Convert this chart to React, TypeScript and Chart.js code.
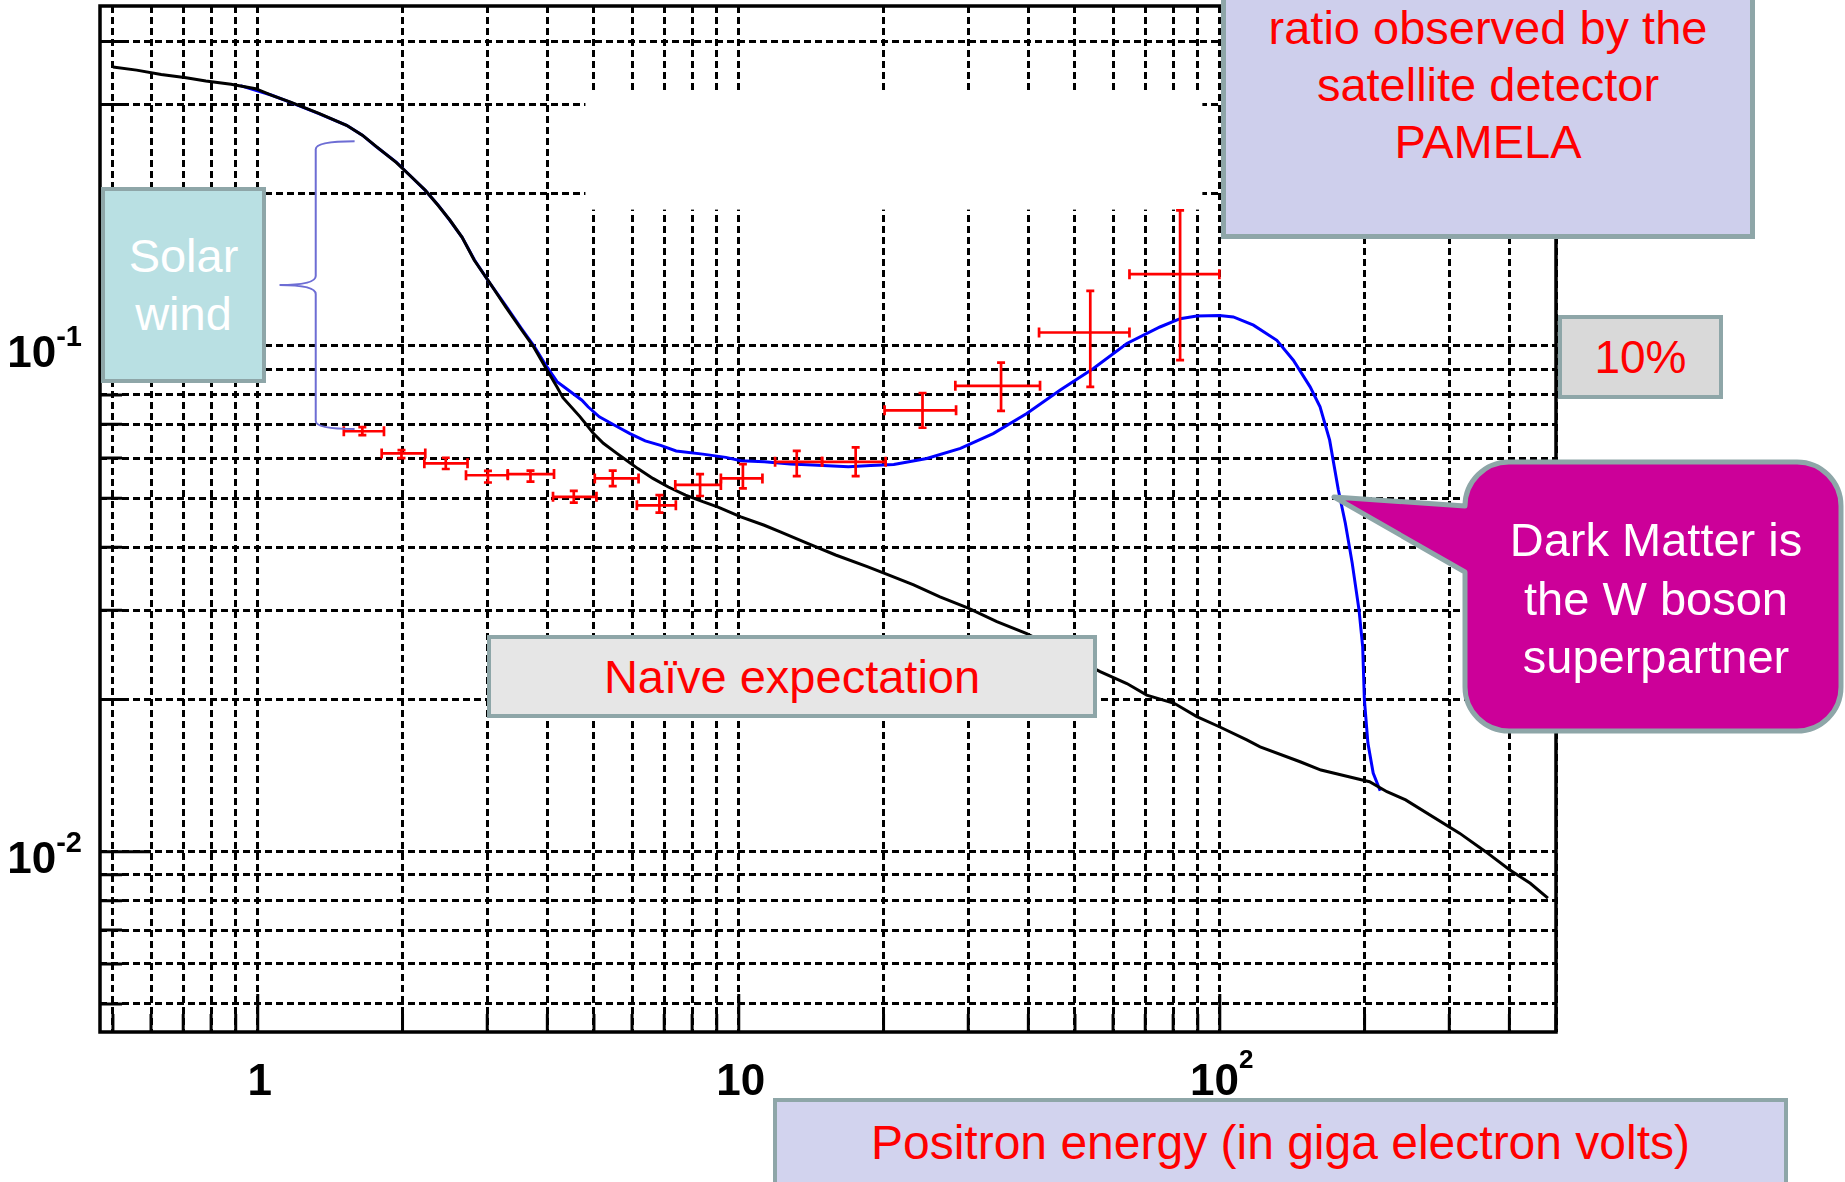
import { useEffect, useRef } from 'react';
import { Chart, registerables } from 'chart.js';

Chart.register(...registerables);

// axis ranges: positron energy (GeV) and positron fraction
const E_MIN = 0.47;
const E_MAX = 500;
const F_MIN = 0.0044;
const F_MAX = 0.47;

// grid lines (ROOT style, every minor decade step)
const E_GRID = [0.5, 0.6, 0.7, 0.8, 0.9, 1, 2, 3, 4, 5, 6, 7, 8, 9, 10, 20, 30, 40, 50, 60, 70, 80, 90, 100, 200, 300, 400, 500];
const F_GRID = [0.005, 0.006, 0.007, 0.008, 0.009, 0.01, 0.02, 0.03, 0.04, 0.05, 0.06, 0.07, 0.08, 0.09, 0.1, 0.2, 0.3, 0.4];

// tick labels
const E_LABEL_AT = [1, 10, 100];
const E_LABEL_BASE = ['1', '10', '10'];
const E_LABEL_EXP = ['', '', '2'];
const F_LABEL_AT = [0.1, 0.01];
const F_LABEL_BASE = ['10', '10'];
const F_LABEL_EXP = ['-1', '-2'];

// naive expectation (black)
const NAIVE_E = [0.5, 0.56, 0.63, 0.71, 0.78, 0.88, 0.99, 1.07, 1.17, 1.34, 1.53, 1.65, 1.77, 1.94, 2.07, 2.23, 2.37, 2.51, 2.66, 2.82, 3.04, 3.28, 3.54, 3.75, 3.96, 4.19, 4.31, 4.68, 4.99, 5.23, 5.58, 5.84, 6.17, 6.63, 7.14, 7.75, 8.42, 9.06, 10.1, 11.3, 12.2, 13.9, 15.9, 18.5, 20.1, 23.1, 26.2, 30.0, 34.4, 39.7, 56.4, 64.1, 70.5, 80.4, 89.6, 99.8, 113.8, 121.3, 146.9, 162.3, 185.5, 204.8, 222.6, 243.4, 315, 357, 401, 442, 481];
const NAIVE_F = [0.356, 0.351, 0.344, 0.339, 0.334, 0.329, 0.3226, 0.313, 0.3034, 0.2884, 0.273, 0.261, 0.2473, 0.2307, 0.2175, 0.2031, 0.1897, 0.1772, 0.164, 0.1477, 0.133, 0.1193, 0.1074, 0.0994, 0.0908, 0.0829, 0.079, 0.0724, 0.0671, 0.0642, 0.0613, 0.0594, 0.0572, 0.0547, 0.0526, 0.0507, 0.0492, 0.048, 0.0459, 0.0442, 0.0429, 0.0407, 0.0386, 0.0366, 0.0355, 0.0337, 0.0319, 0.0303, 0.0285, 0.027, 0.0227, 0.0215, 0.0204, 0.01965, 0.0185, 0.01766, 0.01663, 0.01612, 0.01506, 0.0145, 0.01407, 0.01375, 0.01314, 0.01266, 0.01088, 0.01, 0.0092, 0.00866, 0.00809];

// dark matter prediction (blue)
const DM_E = [0.92, 1.07, 1.17, 1.34, 1.53, 1.65, 1.77, 1.94, 2.07, 2.23, 2.37, 2.51, 2.66, 2.82, 3.04, 3.28, 3.54, 3.75, 3.96, 4.19, 4.72, 4.86, 5.13, 5.52, 5.94, 6.39, 6.88, 7.41, 8.42, 9.4, 10.1, 11.3, 12.8, 14.6, 16.9, 18.8, 21.0, 24.6, 28.9, 33.8, 39.7, 46.6, 54.6, 64.1, 75.1, 82.7, 89.6, 99.8, 106.7, 117.5, 131.4, 142.2, 154.1, 161.6, 169.2, 176.4, 182.4, 188.5, 194.8, 198.2, 199.8, 203.2, 208.4, 215.5];
const DM_F = [0.327, 0.313, 0.303, 0.288, 0.273, 0.261, 0.247, 0.231, 0.2175, 0.203, 0.19, 0.177, 0.164, 0.148, 0.133, 0.12, 0.108, 0.1, 0.092, 0.085, 0.0781, 0.0758, 0.0724, 0.0697, 0.0671, 0.0649, 0.0636, 0.062, 0.0611, 0.0602, 0.0593, 0.059, 0.0584, 0.0581, 0.0577, 0.058, 0.0583, 0.0599, 0.0627, 0.0671, 0.0735, 0.0818, 0.0902, 0.1011, 0.109, 0.1132, 0.1146, 0.1148, 0.1141, 0.1099, 0.1026, 0.0937, 0.083, 0.0758, 0.0651, 0.0519, 0.0446, 0.0372, 0.03, 0.0254, 0.02, 0.0164, 0.0143, 0.0132];

// PAMELA positron fraction with errors (red)
const PAM_E = [1.65, 1.99, 2.46, 3.01, 3.69, 4.54, 5.47, 6.84, 8.31, 10.2, 13.2, 17.5, 24.1, 35.1, 53.8, 82.7];
const PAM_E_LO = [1.51, 1.81, 2.22, 2.71, 3.31, 4.11, 5.02, 6.14, 7.38, 9.18, 11.9, 14.9, 20.1, 28.2, 42.1, 64.9];
const PAM_E_HI = [1.83, 2.23, 2.73, 3.31, 4.13, 5.06, 6.19, 7.4, 9.18, 11.2, 14.9, 20.2, 28.3, 42.3, 64.9, 99.8];
const PAM_F = [0.0678, 0.0613, 0.0586, 0.0555, 0.0558, 0.0503, 0.0547, 0.0484, 0.0531, 0.0547, 0.059, 0.059, 0.0746, 0.0834, 0.1063, 0.1386];
const PAM_F_LO = [0.0666, 0.06, 0.0571, 0.0537, 0.0539, 0.049, 0.0528, 0.0468, 0.0505, 0.0523, 0.0553, 0.0553, 0.0689, 0.0744, 0.083, 0.0937];
const PAM_F_HI = [0.0691, 0.0622, 0.0601, 0.0566, 0.0567, 0.0517, 0.0567, 0.0507, 0.0558, 0.0584, 0.062, 0.063, 0.0807, 0.0927, 0.1285, 0.1854];

// curly brace next to "Solar wind": [tip, spine, ends] and [top, tip, bottom]
const BRACE_E = [1.11, 1.32, 1.59];
const BRACE_F = [0.254, 0.132, 0.0685];

// blanked-out patch of the grid in the source picture
const PATCH_E = [4.8, 92];
const PATCH_F = [0.186, 0.318];

const LABEL_FONT = 'bold 44px "Liberation Sans", Arial, sans-serif';
const EXP_FONT_X = 'bold 26px "Liberation Sans", Arial, sans-serif';
const EXP_FONT_Y = 'bold 29px "Liberation Sans", Arial, sans-serif';
const BOX_FONT = '"Liberation Sans", Arial, Helvetica, sans-serif';
const BOX_BORDER = '#8ea6a8';

const rootPlot = {
  id: 'rootPlot',
  beforeDatasetsDraw(chart: Chart) {
    const { ctx, chartArea: a } = chart;
    const x = chart.scales.x;
    const y = chart.scales.y;
    ctx.save();
    ctx.fillStyle = '#ffffff';
    const px0 = x.getPixelForValue(PATCH_E[0]);
    const px1 = x.getPixelForValue(PATCH_E[1]);
    const py0 = y.getPixelForValue(PATCH_F[1]);
    const py1 = y.getPixelForValue(PATCH_F[0]);
    ctx.fillRect(px0, py0, px1 - px0, py1 - py0);

    ctx.strokeStyle = '#000';
    ctx.setLineDash([]);
    ctx.lineWidth = 3;
    ctx.beginPath();
    E_GRID.forEach((v) => {
      const px = x.getPixelForValue(v);
      const len = E_LABEL_AT.includes(v) ? 38 : 18;
      ctx.moveTo(px, a.bottom);
      ctx.lineTo(px, a.bottom - len);
    });
    F_GRID.forEach((v) => {
      const py = y.getPixelForValue(v);
      const len = F_LABEL_AT.includes(v) ? 50 : 22;
      ctx.moveTo(a.left, py);
      ctx.lineTo(a.left + len, py);
    });
    ctx.stroke();

    ctx.lineWidth = 3.5;
    ctx.strokeRect(a.left, a.top, a.right - a.left, a.bottom - a.top);
    ctx.restore();
  },
  afterDatasetsDraw(chart: Chart) {
    const { ctx } = chart;
    const x = chart.scales.x;
    const y = chart.scales.y;
    ctx.save();
    // error bars
    ctx.strokeStyle = '#ff0000';
    ctx.lineWidth = 2.7;
    PAM_E.forEach((e, i) => {
      const cx = x.getPixelForValue(e);
      const cy = y.getPixelForValue(PAM_F[i]);
      const xl = x.getPixelForValue(PAM_E_LO[i]);
      const xh = x.getPixelForValue(PAM_E_HI[i]);
      const yl = y.getPixelForValue(PAM_F_LO[i]);
      const yh = y.getPixelForValue(PAM_F_HI[i]);
      ctx.beginPath();
      ctx.moveTo(xl, cy);
      ctx.lineTo(xh, cy);
      ctx.moveTo(xl, cy - 5);
      ctx.lineTo(xl, cy + 5);
      ctx.moveTo(xh, cy - 5);
      ctx.lineTo(xh, cy + 5);
      ctx.moveTo(cx, yl);
      ctx.lineTo(cx, yh);
      ctx.moveTo(cx - 4, yl);
      ctx.lineTo(cx + 4, yl);
      ctx.moveTo(cx - 4, yh);
      ctx.lineTo(cx + 4, yh);
      ctx.stroke();
    });

    // brace
    const xt = x.getPixelForValue(BRACE_E[0]);
    const xs = x.getPixelForValue(BRACE_E[1]);
    const xe = x.getPixelForValue(BRACE_E[2]);
    const yt = y.getPixelForValue(BRACE_F[0]);
    const ym = y.getPixelForValue(BRACE_F[1]);
    const yb = y.getPixelForValue(BRACE_F[2]);
    ctx.strokeStyle = '#6d6dd4';
    ctx.lineWidth = 2;
    ctx.beginPath();
    ctx.moveTo(xe, yt);
    ctx.quadraticCurveTo(xs, yt, xs, yt + 8);
    ctx.lineTo(xs, ym - 9);
    ctx.quadraticCurveTo(xs, ym, xt, ym);
    ctx.quadraticCurveTo(xs, ym, xs, ym + 9);
    ctx.lineTo(xs, yb - 8);
    ctx.quadraticCurveTo(xs, yb, xe, yb);
    ctx.stroke();
    ctx.restore();
  },
  afterDraw(chart: Chart) {
    const { ctx, chartArea: a } = chart;
    const x = chart.scales.x;
    const y = chart.scales.y;
    ctx.save();
    ctx.fillStyle = '#000';
    ctx.textAlign = 'left';
    ctx.textBaseline = 'alphabetic';
    E_LABEL_AT.forEach((v, i) => {
      const px = x.getPixelForValue(v);
      ctx.font = LABEL_FONT;
      const wb = ctx.measureText(E_LABEL_BASE[i]).width;
      ctx.font = EXP_FONT_X;
      const we = E_LABEL_EXP[i] ? ctx.measureText(E_LABEL_EXP[i]).width : 0;
      const left = px - (wb + we) / 2 + 2;
      const base = a.bottom + 63;
      ctx.font = LABEL_FONT;
      ctx.fillText(E_LABEL_BASE[i], left, base);
      if (we) {
        ctx.font = EXP_FONT_X;
        ctx.fillText(E_LABEL_EXP[i], left + wb, base - 27);
      }
    });
    F_LABEL_AT.forEach((v, i) => {
      const py = y.getPixelForValue(v);
      const right = a.left - 18;
      ctx.font = EXP_FONT_Y;
      const we = ctx.measureText(F_LABEL_EXP[i]).width;
      ctx.font = LABEL_FONT;
      const wb = ctx.measureText(F_LABEL_BASE[i]).width;
      ctx.fillText(F_LABEL_BASE[i], right - we - wb, py + 21);
      ctx.font = EXP_FONT_Y;
      ctx.fillText(F_LABEL_EXP[i], right - we, py);
    });
    ctx.restore();
  },
};

interface BoxProps {
  left: number;
  top: number;
  width: number;
  height: number;
  fill: string;
  color: string;
  fontSize?: number;
  lines: string[];
}

function Box({ left, top, width, height, fill, color, fontSize = 47, lines }: BoxProps) {
  return (
    <div
      style={{
        position: 'absolute',
        left,
        top,
        width,
        height,
        boxSizing: 'border-box',
        background: fill,
        border: `4px solid ${BOX_BORDER}`,
        color,
        fontFamily: BOX_FONT,
        fontSize,
        lineHeight: '58px',
        display: 'flex',
        flexDirection: 'column',
        alignItems: 'center',
        justifyContent: 'center',
        textAlign: 'center',
        whiteSpace: 'nowrap',
      }}
    >
      {lines.map((l) => (
        <div key={l}>{l}</div>
      ))}
    </div>
  );
}

export default function App() {
  const canvasRef = useRef<HTMLCanvasElement>(null);

  useEffect(() => {
    if (!canvasRef.current) return;
    const chart = new Chart(canvasRef.current, {
      type: 'line',
      data: {
        datasets: [
          {
            label: 'Naive expectation',
            data: NAIVE_E.map((e, i) => ({ x: e, y: NAIVE_F[i] })),
            borderColor: '#000000',
            borderWidth: 3,
            pointRadius: 0,
            tension: 0,
            fill: false,
            order: 1,
          },
          {
            label: 'Dark matter',
            data: DM_E.map((e, i) => ({ x: e, y: DM_F[i] })),
            borderColor: '#0000ff',
            borderWidth: 3,
            pointRadius: 0,
            tension: 0,
            fill: false,
            order: 2,
          },
          {
            type: 'scatter',
            label: 'PAMELA',
            data: PAM_E.map((e, i) => ({ x: e, y: PAM_F[i] })),
            pointRadius: 0,
            showLine: false,
            order: 0,
          },
        ],
      },
      options: {
        animation: false,
        responsive: true,
        maintainAspectRatio: false,
        layout: { padding: { left: 100, top: 6, right: 289, bottom: 150 } },
        plugins: { legend: { display: false }, tooltip: { enabled: false } },
        scales: {
          x: {
            type: 'logarithmic',
            min: E_MIN,
            max: E_MAX,
            afterBuildTicks: (s) => {
              s.ticks = E_GRID.map((v) => ({ value: v }));
            },
            ticks: { display: false, autoSkip: false },
            grid: { color: '#000', lineWidth: 3, drawTicks: false },
            border: { display: false, dash: [7, 4] },
          },
          y: {
            type: 'logarithmic',
            min: F_MIN,
            max: F_MAX,
            afterBuildTicks: (s) => {
              s.ticks = F_GRID.map((v) => ({ value: v }));
            },
            ticks: { display: false, autoSkip: false },
            grid: { color: '#000', lineWidth: 3, drawTicks: false },
            border: { display: false, dash: [7, 4] },
          },
        },
      },
      plugins: [rootPlot],
    });
    return () => chart.destroy();
  }, []);

  return (
    <div style={{ position: 'fixed', left: 0, top: 0, width: 1845, height: 1182, overflow: 'hidden', background: '#fff' }}>
      <div style={{ position: 'absolute', left: 0, top: 0, width: 1845, height: 1182 }}>
        <canvas ref={canvasRef} />
      </div>

      <Box left={101} top={187} width={165} height={196} fill="#b9e0e3" color="#ffffff" lines={['Solar', 'wind']} />

      <div
        style={{
          position: 'absolute', left: 1221, top: -70, width: 534, height: 309, boxSizing: 'border-box',
          background: '#cecfec', border: `5px solid ${BOX_BORDER}`,
        }}
      />
      <div
        style={{
          position: 'absolute', left: 1221, top: -1, width: 534, textAlign: 'center', color: '#ff0000',
          fontFamily: BOX_FONT, fontSize: 47, lineHeight: '57px', whiteSpace: 'nowrap',
        }}
      >
        <div>ratio observed by the</div>
        <div>satellite detector</div>
        <div>PAMELA</div>
      </div>

      <Box left={1558} top={315} width={165} height={84} fill="#d9d9d9" color="#ff0000" fontSize={46} lines={['10%']} />

      <svg width={1845} height={1182} style={{ position: 'absolute', left: 0, top: 0 }}>
        <path
          d="M 1509 462 H 1797 A 44 44 0 0 1 1841 506 V 687 A 44 44 0 0 1 1797 731 H 1509 A 44 44 0 0 1 1465 687 V 572 L 1334 497 L 1465 506 A 44 44 0 0 1 1509 462 Z"
          fill="#cc0099"
          stroke={BOX_BORDER}
          strokeWidth={5}
          strokeLinejoin="round"
        />
      </svg>
      <div
        style={{
          position: 'absolute', left: 1469, top: 511, width: 374, textAlign: 'center', color: '#ffffff',
          fontFamily: BOX_FONT, fontSize: 47, lineHeight: '58.5px', whiteSpace: 'nowrap',
        }}
      >
        <div>Dark Matter is</div>
        <div>the W boson</div>
        <div>superpartner</div>
      </div>

      <Box left={487} top={635} width={610} height={83} fill="#e6e6e6" color="#ff0000" lines={['Naïve expectation']} />

      <Box
        left={773}
        top={1098}
        width={1015}
        height={90}
        fill="#d2d3ee"
        color="#ff0000"
        fontSize={48}
        lines={['Positron energy (in giga electron volts)']}
      />
    </div>
  );
}
